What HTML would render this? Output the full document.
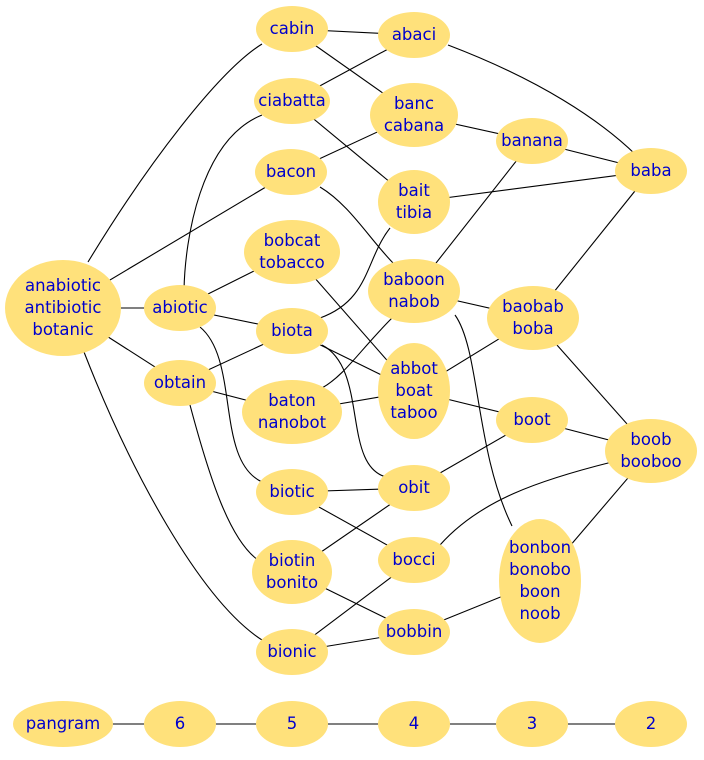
<!DOCTYPE html>
<html><head><meta charset="utf-8"><style>
html,body{margin:0;padding:0;background:#fff;}
svg text{font-family:"DejaVu Sans","Liberation Sans",sans-serif;font-size:16.5px;fill:#0000cc;text-anchor:middle;}
</style></head><body>
<svg width="704" height="755" viewBox="0 0 704 755" xmlns="http://www.w3.org/2000/svg">
<g stroke="#000" stroke-width="1.1" fill="none">
<path d="M88,262 C150,160 220,70 262,44"/>
<path d="M63,308 L291,172"/>
<path d="M63,308 L180,308"/>
<path d="M63,308 L180,383"/>
<path d="M84,352 C130,470 200,600 262,640"/>
<path d="M292,29 L414,35"/>
<path d="M292,29 L414,115"/>
<path d="M292,101 L414,35"/>
<path d="M292,101 L414,202"/>
<path d="M262,115 C200,140 185,240 184,290"/>
<path d="M448,45 C540,80 600,120 636,155"/>
<path d="M414,115 L532,141"/>
<path d="M532,141 L651,171"/>
<path d="M532,141 L414,291"/>
<path d="M291,172 L414,115"/>
<path d="M320,187 C350,205 370,240 395,265"/>
<path d="M414,202 L651,171"/>
<path d="M390,228 C365,260 370,300 320,318"/>
<path d="M292,252 L180,308"/>
<path d="M292,252 L414,391"/>
<path d="M180,308 L292,331"/>
<path d="M200,327 C240,360 215,460 262,482"/>
<path d="M414,291 L533,318"/>
<path d="M392,318 C360,350 345,375 322,388"/>
<path d="M455,315 C480,350 475,450 512,526"/>
<path d="M533,318 L651,171"/>
<path d="M533,318 L414,391"/>
<path d="M533,318 L651,451"/>
<path d="M292,331 L180,383"/>
<path d="M292,331 L414,391"/>
<path d="M322,345 C370,370 340,470 390,478"/>
<path d="M180,383 L292,412"/>
<path d="M190,405 C210,480 230,540 258,560"/>
<path d="M414,391 L292,412"/>
<path d="M414,391 L532,420"/>
<path d="M532,420 L651,451"/>
<path d="M532,420 L414,488"/>
<path d="M292,492 L414,488"/>
<path d="M292,492 L414,560"/>
<path d="M414,488 L292,572"/>
<path d="M612,462 C540,480 480,500 440,545"/>
<path d="M651,451 L540,581"/>
<path d="M292,572 L414,632"/>
<path d="M414,560 L292,652"/>
<path d="M292,652 L414,632"/>
<path d="M414,632 L540,581"/>
<path d="M63,724 L651,724"/>
</g>
<g fill="#ffe17b" stroke="none">
<ellipse cx="292" cy="29" rx="36" ry="23"/>
<ellipse cx="414" cy="35" rx="36" ry="23"/>
<ellipse cx="292" cy="101" rx="38" ry="23"/>
<ellipse cx="414" cy="115" rx="44" ry="32"/>
<ellipse cx="532" cy="141" rx="36" ry="23"/>
<ellipse cx="651" cy="171" rx="36" ry="23"/>
<ellipse cx="291" cy="172" rx="36" ry="23"/>
<ellipse cx="414" cy="202" rx="36" ry="32"/>
<ellipse cx="292" cy="252" rx="48" ry="32"/>
<ellipse cx="63" cy="308" rx="58" ry="48"/>
<ellipse cx="180" cy="308" rx="36" ry="23"/>
<ellipse cx="414" cy="291" rx="46" ry="32"/>
<ellipse cx="533" cy="318" rx="46" ry="32"/>
<ellipse cx="292" cy="331" rx="36" ry="23"/>
<ellipse cx="180" cy="383" rx="36" ry="23"/>
<ellipse cx="414" cy="391" rx="36" ry="48"/>
<ellipse cx="292" cy="412" rx="50" ry="32"/>
<ellipse cx="532" cy="420" rx="36" ry="23"/>
<ellipse cx="651" cy="451" rx="46" ry="32"/>
<ellipse cx="292" cy="492" rx="36" ry="23"/>
<ellipse cx="414" cy="488" rx="36" ry="23"/>
<ellipse cx="414" cy="560" rx="36" ry="23"/>
<ellipse cx="540" cy="581" rx="41" ry="62"/>
<ellipse cx="292" cy="572" rx="40" ry="32"/>
<ellipse cx="414" cy="632" rx="36" ry="23"/>
<ellipse cx="292" cy="652" rx="36" ry="23"/>
<ellipse cx="63" cy="724" rx="50" ry="23"/>
<ellipse cx="180" cy="724" rx="36" ry="23"/>
<ellipse cx="292" cy="724" rx="36" ry="23"/>
<ellipse cx="414" cy="724" rx="36" ry="23"/>
<ellipse cx="532" cy="724" rx="36" ry="23"/>
<ellipse cx="651" cy="724" rx="36" ry="23"/>
</g>
<g>
<text x="292" y="34">cabin</text>
<text x="414" y="40">abaci</text>
<text x="292" y="106">ciabatta</text>
<text x="414" y="109">banc</text><text x="414" y="131">cabana</text>
<text x="532" y="146">banana</text>
<text x="651" y="176">baba</text>
<text x="291" y="177">bacon</text>
<text x="414" y="196">bait</text><text x="414" y="218">tibia</text>
<text x="292" y="246">bobcat</text><text x="292" y="268">tobacco</text>
<text x="63" y="291">anabiotic</text><text x="63" y="313">antibiotic</text><text x="63" y="335">botanic</text>
<text x="180" y="313">abiotic</text>
<text x="414" y="285">baboon</text><text x="414" y="307">nabob</text>
<text x="533" y="312">baobab</text><text x="533" y="334">boba</text>
<text x="292" y="336">biota</text>
<text x="180" y="388">obtain</text>
<text x="414" y="374">abbot</text><text x="414" y="396">boat</text><text x="414" y="418">taboo</text>
<text x="292" y="406">baton</text><text x="292" y="428">nanobot</text>
<text x="532" y="425">boot</text>
<text x="651" y="445">boob</text><text x="651" y="467">booboo</text>
<text x="292" y="497">biotic</text>
<text x="414" y="493">obit</text>
<text x="414" y="565">bocci</text>
<text x="540" y="553">bonbon</text><text x="540" y="575">bonobo</text><text x="540" y="597">boon</text><text x="540" y="619">noob</text>
<text x="292" y="566">biotin</text><text x="292" y="588">bonito</text>
<text x="414" y="637">bobbin</text>
<text x="292" y="657">bionic</text>
<text x="63" y="729">pangram</text>
<text x="180" y="729">6</text>
<text x="292" y="729">5</text>
<text x="414" y="729">4</text>
<text x="532" y="729">3</text>
<text x="651" y="729">2</text>
</g>
</svg>
</body></html>
